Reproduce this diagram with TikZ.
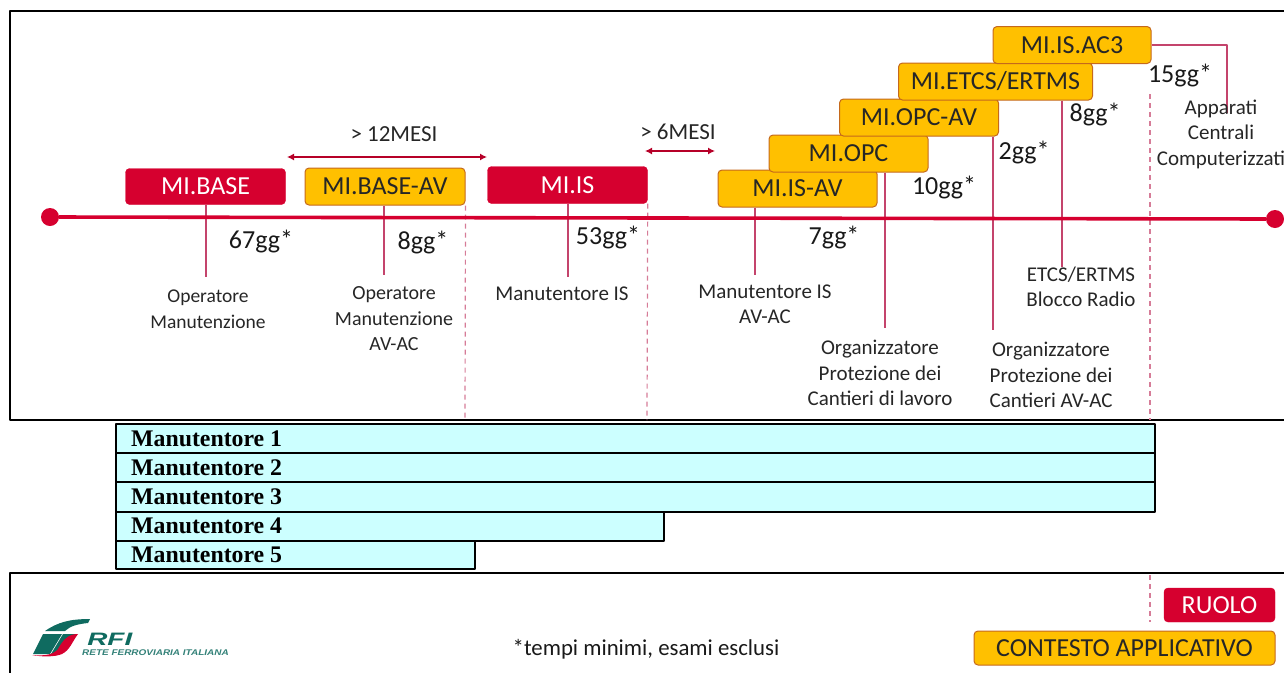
\documentclass[tikz,border=0pt]{standalone}
\usepackage{fontspec}
\setmainfont{Carlito}
\newfontfamily\tablefont{Liberation Serif}
\newfontfamily\logofont{Liberation Sans}
\usetikzlibrary{arrows.meta}
\definecolor{rfired}{HTML}{D6002F}
\definecolor{rfiorange}{HTML}{FFC000}
\definecolor{rfiborder}{HTML}{C5691C}
\definecolor{rolelink}{HTML}{C4446C}
\definecolor{rfiteal}{HTML}{0F6B60}
\definecolor{rowfill}{HTML}{CCFFFF}
\tikzset{
  redbox/.style={draw=rfired, fill=rfired, rounded corners=4pt, text=white, inner sep=0pt, font=\fontsize{26}{28}\selectfont},
  orangebox/.style={draw=rfiborder, fill=rfiorange, rounded corners=4pt, text=black!85, line width=1pt, inner sep=0pt, font=\fontsize{26}{28}\selectfont},
  rolelabel/.style={align=center, text=black!85, inner sep=0pt, font=\fontsize{21}{25.5}\selectfont},
  days/.style={text=black!90, inner sep=0pt, font=\fontsize{26}{30}\selectfont},
  gaplabel/.style={text=black!85, inner sep=0pt, font=\fontsize{23}{24}\selectfont},
  rolelinks/.style={draw=rolelink, line width=1.2pt},
  milestone/.style={draw=rolelink!70, line width=1.2pt, dash pattern=on 5pt off 4pt},
  gaparrow/.style={draw=rfired!85!black, line width=1.3pt, {Latex[length=7pt,width=7pt]}-{Latex[length=7pt,width=7pt]}},
  frameline/.style={draw=black, line width=1.6pt},
  rowbox/.style={draw=black, fill=rowfill, line width=2pt},
  rowlabel/.style={anchor=west, inner sep=0pt, font=\tablefont\bfseries\fontsize{23.8}{26}\selectfont}
}
\begin{document}
\begin{tikzpicture}[x=1pt, y=-1pt, line join=round]
\useasboundingbox (0,0) rectangle (1284,673);
% free ends of the connectors
\coordinate (baseEnd) at (206,277);
\coordinate (baseavEnd) at (384,275);
\coordinate (isEnd) at (568,277);
\coordinate (isavEnd) at (755,275);
\coordinate (opcEnd) at (885,328);
\coordinate (opcavEnd) at (993,330);
\coordinate (etcsEnd) at (1062,267);
\coordinate (acEnd) at (1227,113);
% frames
\draw[frameline] (1284,11) -- (10,11) -- (10,420) -- (1284,420);
\draw[frameline] (1284,573) -- (10,573) -- (10,673);
% timeline
\node[circle, fill=rfired, minimum size=18pt, inner sep=0pt] (tStart) at (50,217) {};
\node[circle, fill=rfired, minimum size=18pt, inner sep=0pt] (tEnd) at (1275,219) {};
% boxes
\node[redbox, minimum width=160pt, minimum height=36pt] (mibase) at (205.5,186.5) {MI.BASE};
\node[orangebox, minimum width=160pt, minimum height=37pt] (mibaseav) at (385,186.5) {MI.BASE-AV};
\node[redbox, minimum width=160pt, minimum height=37pt] (miis) at (567.5,185) {MI.IS};
\node[orangebox, minimum width=159pt, minimum height=37pt] (miisav) at (797.5,188.5) {MI.IS-AV};
% connectors first where the boxes overlap them
\draw[rolelinks] (mibase.south -| baseEnd) -- (baseEnd);
\draw[rolelinks] (mibaseav.south -| baseavEnd) -- (baseavEnd);
\draw[rolelinks] (miis.south -| isEnd) -- (isEnd);
\draw[rolelinks] (miisav.south -| isavEnd) -- (isavEnd);
\draw[milestone] (mibaseav.south east) -- (465,420);
\draw[milestone] (miis.south east) -- (647,420);
\draw[milestone] (1150,94) -- (1150,420);
\draw[milestone] (1150,575) -- (1150,622);
\node[orangebox, minimum width=159pt, minimum height=37pt] (miopc) at (848.5,153.5) {MI.OPC};
\node[orangebox, minimum width=159pt, minimum height=37pt] (miopcav) at (919,117.5) {MI.OPC-AV};
\node[orangebox, minimum width=194pt, minimum height=37pt] (mietcs) at (995.5,81.5) {MI.ETCS/ERTMS};
\node[orangebox, minimum width=158pt, minimum height=37pt] (miac) at (1072,45) {MI.IS.AC3};
\draw[rolelinks] (miopc.south -| opcEnd) -- (opcEnd);
\draw[rolelinks] (miopcav.south -| opcavEnd) -- (opcavEnd);
\draw[rolelinks] (mietcs.south -| etcsEnd) -- (etcsEnd);
\draw[rolelinks] (miac.east) -| (acEnd);
\draw[draw=rfired, line width=3.6pt] (tStart) -- (tEnd);
% gaps
\coordinate (gapA) at (287,157);
\coordinate (gapB) at (487,157);
\coordinate (gapC) at (645,151);
\coordinate (gapD) at (715,151);
\draw[gaparrow] (gapA) -- (gapB);
\draw[gaparrow] (gapC) -- (gapD);
\node[gaplabel] (gapyear) at (394,134) {> 12MESI};
\node[gaplabel] (gaphalf) at (678,132) {> 6MESI};
% durations
\node[days] (d1) at (261,241) {67gg*};
\node[days] (d2) at (423,242) {8gg*};
\node[days] (d3) at (608,237) {53gg*};
\node[days] (d4) at (834,237) {7gg*};
\node[days] (d5) at (944,187) {10gg*};
\node[days] (d6) at (1024,152) {2gg*};
\node[days] (d7) at (1095,114) {8gg*};
\node[days] (d8) at (1180,75) {15gg*};
% roles
\node[rolelabel, font=\fontsize{19.5}{25.5}\selectfont] (r1) at (208,309) {Operatore\\Manutenzione};
\node[rolelabel, font=\fontsize{20}{25.5}\selectfont] (r2) at (394,319) {Operatore\\Manutenzione\\AV-AC};
\node[rolelabel] (r3) at (562,294) {Manutentore IS};
\node[rolelabel] (r4) at (765,304) {Manutentore IS\\AV-AC};
\node[rolelabel] (r5) at (880,373) {Organizzatore\\Protezione dei\\Cantieri di lavoro};
\node[rolelabel] (r6) at (1051,375) {Organizzatore\\Protezione dei\\Cantieri AV-AC};
\node[rolelabel] (r7) at (1081,287) {ETCS/ERTMS\\Blocco Radio};
\node[rolelabel] (r8) at (1221,134) {Apparati\\Centrali\\Computerizzati};
% table rows
\draw[rowbox] (116,424) rectangle (1155,453);
\draw[rowbox] (116,453) rectangle (1155,482);
\draw[rowbox] (116,482) rectangle (1155,512);
\draw[rowbox] (116,512) rectangle (664,541);
\draw[rowbox] (116,541) rectangle (475,569);
\node[rowlabel] (m1) at (131,439) {Manutentore 1};
\node[rowlabel] (m2) at (131,468) {Manutentore 2};
\node[rowlabel] (m3) at (131,497) {Manutentore 3};
\node[rowlabel] (m4) at (131,526) {Manutentore 4};
\node[rowlabel] (m5) at (131,555) {Manutentore 5};
% logo
\fill[rfiteal] (90,619) .. controls (70,619) and (58,622) .. (45,631) -- (65,631) .. controls (70,626) and (78,624) .. (88,623) -- cycle;
\fill[rfiteal] (43,634) -- (62,634) -- (50,654) -- (33,654) -- cycle;
\fill[rfiteal] (63,634) -- (78,634) .. controls (66,638) and (62,648) .. (58,654) -- (51,654) -- cycle;
\fill[rfired] (32,655) .. controls (45,656) and (53,655) .. (58,649) .. controls (63,640) and (68,634) .. (78,634) .. controls (72,642) and (70,650) .. (62,654) .. controls (55,657) and (42,657) .. (32,655) -- cycle;
\node[anchor=west, inner sep=0pt, text=rfiteal, xscale=1.55, transform shape, font=\logofont\bfseries\itshape\fontsize{18}{19}\selectfont] (rfi) at (87,639.5) {RFI};
\node[anchor=west, inner sep=0pt, text=rfiteal!85, xscale=1.2, transform shape, font=\logofont\bfseries\itshape\fontsize{8.3}{9}\selectfont] (rfiname) at (82,652.5) {RETE FERROVIARIA ITALIANA};
% footer
\node[text=black!90, inner sep=0pt, font=\fontsize{22.8}{24}\selectfont] (note) at (646,649) {*tempi minimi, esami esclusi};
\node[redbox, minimum width=111pt, minimum height=34pt] (ruolo) at (1219.5,605) {RUOLO};
\node[orangebox, minimum width=301pt, minimum height=34pt] (contesto) at (1124.5,648) {CONTESTO APPLICATIVO};
\end{tikzpicture}
\end{document}
